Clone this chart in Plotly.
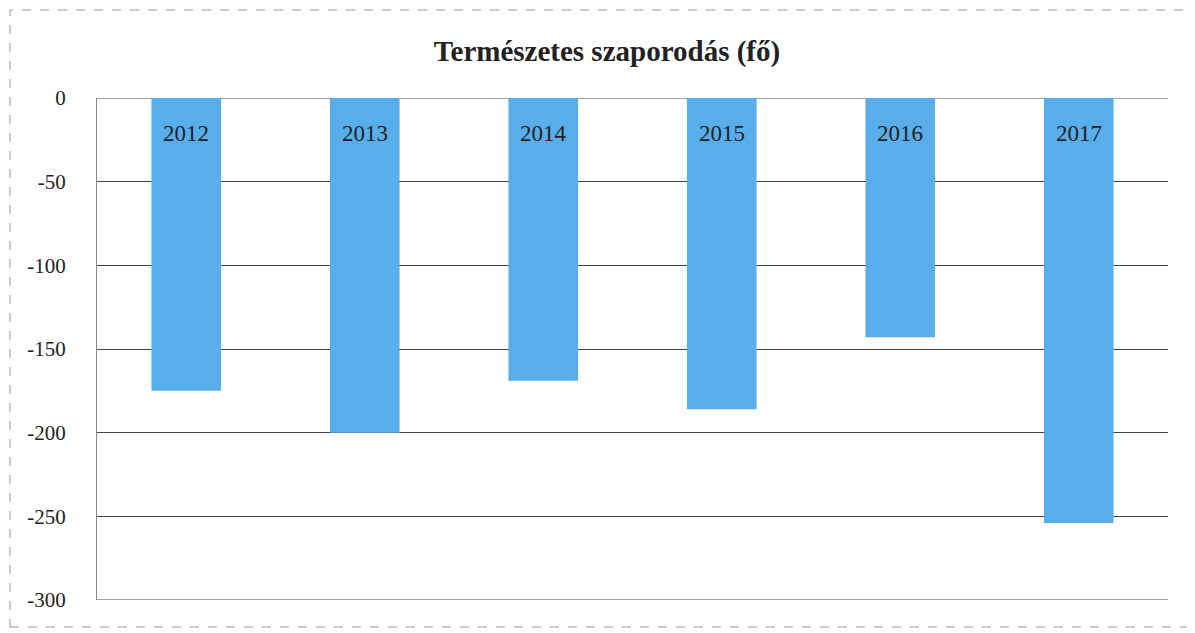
import plotly.graph_objects as go

years = ["2012", "2013", "2014", "2015", "2016", "2017"]
values = [-175, -200, -169, -186, -143, -254]
tick_vals = [0, -50, -100, -150, -200, -250, -300]
title_text = "Természetes szaporodás (fő)"

SERIF = "Liberation Serif, Times New Roman, DejaVu Serif, serif"

# page is shown with an 8px body offset
OFF = 8
W, H = 1195 - OFF, 633 - OFF
ML, MR, MT, MB = 97 - OFF, 27, 98 - OFF, 33
pw = W - ML - MR
ph = H - MT - MB

fig = go.Figure()
fig.add_trace(go.Bar(
    x=years, y=values,
    marker=dict(color="#58AEEA", line=dict(width=0)),
    showlegend=False,
))

for i, yr in enumerate(years):
    fig.add_annotation(x=i, y=0, xref="x", yref="y", text=yr, showarrow=False,
                       yanchor="middle", yshift=-35,
                       font=dict(family=SERIF, size=23, color="#222"))

def px_x(p):
    return (p - OFF - ML) / pw

def px_y(p):
    return (H - MB - (p - OFF)) / ph

fig.add_shape(type="rect", xref="paper", yref="paper",
              x0=px_x(10), x1=px_x(1188), y0=px_y(627), y1=px_y(10),
              line=dict(color="#999", width=1, dash="dash"), layer="below")

# edge gridlines (top and bottom tick values)
for v in (tick_vals[0], tick_vals[-1]):
    fig.add_shape(type="line", xref="paper", yref="y", x0=0, x1=1, y0=v, y1=v,
                  line=dict(color="#444", width=1), layer="below")

fig.update_layout(
    width=W, height=H,
    margin=dict(l=ML, r=MR, t=MT, b=MB),
    paper_bgcolor="white", plot_bgcolor="white",
    bargap=0.61,
    title=dict(text="<b>" + title_text + "</b>", x=(607 - OFF) / W, xanchor="center",
               y=1 - (51 - OFF) / H, yanchor="middle",
               font=dict(family=SERIF, size=29, color="#222")),
    xaxis=dict(type="category", categoryorder="array", categoryarray=years,
               range=[-0.5, len(years) - 0.5], autorange=False,
               showticklabels=False, showgrid=False, zeroline=False,
               showline=False, ticks=""),
    yaxis=dict(range=[-300, 0], tickvals=tick_vals, ticktext=[str(v) for v in tick_vals],
               showgrid=True, gridcolor="#444", gridwidth=1, zeroline=False,
               showline=True, linecolor="#888", linewidth=1,
               ticks="", ticklen=0, ticklabelstandoff=26,
               tickfont=dict(family=SERIF, size=21, color="#222")),
)

fig.write_html("out.html")
